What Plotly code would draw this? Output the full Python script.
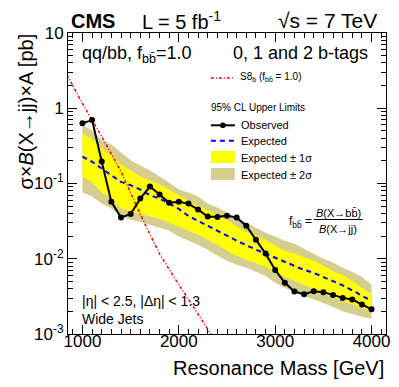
import plotly.graph_objects as go

# resonance mass points [GeV]
mass = list(range(1000, 4001, 100))

# 95% CL upper limits [pb]
observed = [0.63, 0.698, 0.196, 0.057, 0.0352, 0.0394, 0.063, 0.0912, 0.0713, 0.0553,
            0.057, 0.0541, 0.045, 0.0363, 0.0358, 0.0374, 0.0352, 0.0275, 0.0179, 0.0117,
            0.0071, 0.0048, 0.00367, 0.00338, 0.00371, 0.0036, 0.00331, 0.00302, 0.00287,
            0.00246, 0.00213]
expected = [0.227, 0.195, 0.158, 0.129, 0.105, 0.095, 0.083, 0.070, 0.063, 0.054,
            0.046, 0.037, 0.032, 0.0275, 0.0236, 0.0203, 0.0174, 0.0151, 0.0132, 0.0117,
            0.0103, 0.0091, 0.0081, 0.0071, 0.0065, 0.00575, 0.0051, 0.00443, 0.0038,
            0.0032, 0.00275]
exp_1s_up = [0.464, 0.386, 0.293, 0.236, 0.179, 0.149, 0.124, 0.110, 0.097, 0.0832,
             0.0692, 0.0593, 0.0509, 0.0437, 0.0386, 0.0331, 0.0267, 0.0229, 0.0203, 0.0179,
             0.0149, 0.0128, 0.0117, 0.0106, 0.0094, 0.0081, 0.0069, 0.0061, 0.0051,
             0.0041, 0.0034]
exp_1s_dn = [0.124, 0.103, 0.0759, 0.0631, 0.0464, 0.0423, 0.0398, 0.0363, 0.0341, 0.0302,
             0.0267, 0.0236, 0.0209, 0.0179, 0.0154, 0.0128, 0.011, 0.0097, 0.0086, 0.0078,
             0.0065, 0.00575, 0.0051, 0.0045, 0.0040, 0.0035, 0.0031, 0.00275, 0.00244,
             0.00222, 0.0020]
exp_2s_up = [0.593, 0.509, 0.375, 0.331, 0.259, 0.203, 0.174, 0.149, 0.124, 0.103,
             0.0832, 0.0759, 0.0671, 0.0541, 0.0479, 0.0410, 0.0341, 0.0302, 0.0259, 0.0222,
             0.0197, 0.0174, 0.0158, 0.0136, 0.0117, 0.010, 0.0089, 0.0076, 0.0067,
             0.00575, 0.0045]
exp_2s_dn = [0.0759, 0.0671, 0.0541, 0.0464, 0.0374, 0.0331, 0.0311, 0.0284, 0.0259, 0.0236,
             0.0197, 0.0174, 0.0154, 0.0132, 0.011, 0.0094, 0.0083, 0.0076, 0.0067, 0.0059,
             0.0048, 0.0041, 0.0036, 0.0032, 0.0029, 0.0026, 0.0023, 0.0020, 0.00185,
             0.00169, 0.00158]

# S8b theory curve
s8b_mass = [800, 1000, 1200, 1400, 1600, 1800, 2000, 2200, 2400]
s8b_xsec = [3.45, 1.16, 0.42, 0.144, 0.039, 0.0116, 0.00453, 0.00183, 0.00074]

x_ticks = [1000, 2000, 3000, 4000]
y_ticks = [1e-3, 1e-2, 1e-1, 1, 10]
y_tick_labels = ['10<sup>-3</sup>', '10<sup>-2</sup>', '10<sup>-1</sup>', '1', '10']

FONT = "Liberation Sans, Arial, Helvetica, sans-serif"
KHAKI = "rgb(213,206,143)"
YELLOW = "rgb(255,255,0)"

# plot frame in pixels
WIDTH, HEIGHT = 399, 387
L, R, T, B = 60, 378.3, 25, 326


def px(x):
    return (x - L) / (R - L)


def py(y):
    return (B - y) / (B - T)


def note(text, x, y, size, xanchor="left", yanchor="middle", **kw):
    return dict(text=text, x=px(x), y=py(y), xref="paper", yref="paper",
                showarrow=False, xanchor=xanchor, yanchor=yanchor,
                font=dict(size=size, color="black", family=FONT), **kw)


fig = go.Figure()

fig.add_trace(go.Scatter(
    x=mass + mass[::-1], y=exp_2s_up + exp_2s_dn[::-1],
    fill="toself", fillcolor=KHAKI, line=dict(width=0), mode="lines",
    hoverinfo="skip", showlegend=False))
fig.add_trace(go.Scatter(
    x=mass + mass[::-1], y=exp_1s_up + exp_1s_dn[::-1],
    fill="toself", fillcolor=YELLOW, line=dict(width=0), mode="lines",
    hoverinfo="skip", showlegend=False))
fig.add_trace(go.Scatter(
    x=mass, y=expected, mode="lines",
    line=dict(color="rgb(0,0,255)", width=2, dash="5px,4px"), showlegend=False))
fig.add_trace(go.Scatter(
    x=s8b_mass, y=s8b_xsec, mode="lines",
    line=dict(color="rgb(255,0,0)", width=1.5, dash="3px,2px,1px,2px"), showlegend=False))
fig.add_trace(go.Scatter(
    x=mass, y=observed, mode="lines+markers",
    line=dict(color="black", width=2),
    marker=dict(color="black", size=6), showlegend=False))

# hand-placed legend
leg_x0, leg_x1 = 203, 227
shapes = [
    dict(type="line", xref="paper", yref="paper", x0=px(leg_x0), x1=px(225), y0=py(70), y1=py(70),
         line=dict(color="rgb(255,0,0)", width=1.5, dash="3px,2px,1px,2px")),
    dict(type="line", xref="paper", yref="paper", x0=px(leg_x0), x1=px(leg_x1), y0=py(117.3), y1=py(117.3),
         line=dict(color="black", width=2)),
    dict(type="circle", xref="paper", yref="paper", x0=px(212.2), x1=px(217.8), y0=py(114.5), y1=py(120.1),
         fillcolor="black", line=dict(color="black", width=0)),
    dict(type="line", xref="paper", yref="paper", x0=px(leg_x0), x1=px(leg_x1), y0=py(132.7), y1=py(132.7),
         line=dict(color="rgb(0,0,255)", width=2, dash="5px,4px")),
    dict(type="rect", xref="paper", yref="paper", x0=px(leg_x0), x1=px(leg_x1), y0=py(143), y1=py(155),
         fillcolor=YELLOW, line=dict(width=0)),
    dict(type="rect", xref="paper", yref="paper", x0=px(leg_x0), x1=px(leg_x1), y0=py(160), y1=py(172),
         fillcolor=KHAKI, line=dict(width=0)),
    # fraction bar of f_bb
    dict(type="line", xref="paper", yref="paper", x0=px(306), x1=px(355), y0=py(211.5), y1=py(211.5),
         line=dict(color="black", width=1)),
]

bb = "bb\u0304"
annotations = [
    note("<b>CMS</b>", 61, 13, 20),
    note("L = 5 fb<sup>-1</sup>", 132, 13, 20),
    note("\u221As = 7 TeV", 371, 13, 21, xanchor="right"),
    note("qq/bb, f<sub>" + bb + "</sub>=1.0", 72, 46, 18),
    note("0, 1 and 2 b-tags", 362, 45, 18, xanchor="right"),
    note("S8<sub>b</sub> (f<sub>" + bb + "</sub> = 1.0)", 230, 69, 10),
    note("95% CL Upper Limits", 201, 99.5, 10),
    note("Observed", 231, 117.5, 11),
    note("Expected", 231, 133, 11),
    note("Expected \u00b1 1\u03c3", 231, 149.5, 11),
    note("Expected \u00b1 2\u03c3", 231, 166.5, 11),
    note("f<sub>" + bb + "</sub> =", 279, 214, 12),
    note("<i>B</i>(X\u2192" + bb + ")", 330.5, 205, 11, xanchor="center"),
    note("<i>B</i>(X\u2192jj)", 330.5, 221, 11, xanchor="center"),
    note("|\u03b7| < 2.5, |\u0394\u03b7| < 1.3", 72, 293, 14),
    note("Wide Jets", 72, 311, 14),
    note("Resonance Mass [GeV]", 378, 360, 20, xanchor="right"),
    note("\u03c3\u00d7<i>B</i>(X\u2192jj)\u00d7A [pb]", 17, 103.5, 20,
         xanchor="center", textangle=-90),
]

fig.update_layout(
    width=WIDTH, height=HEIGHT,
    margin=dict(l=L, r=WIDTH - R, t=T, b=HEIGHT - B, pad=0),
    paper_bgcolor="white", plot_bgcolor="white",
    font=dict(family=FONT, color="black"),
    showlegend=False,
    shapes=shapes,
    annotations=annotations,
    xaxis=dict(
        range=[850, 4150], tickvals=x_ticks, ticks="inside", ticklen=9,
        tickcolor="black", showline=True, linecolor="black", linewidth=1,
        mirror="ticks", showgrid=False, zeroline=False, ticklabelstandoff=-8,
        tickfont=dict(size=17, family=FONT, color="black"),
        minor=dict(dtick=100, ticks="inside", ticklen=5, tickcolor="black", showgrid=False),
    ),
    yaxis=dict(
        type="log", range=[-3, 1], tickvals=y_ticks, ticktext=y_tick_labels,
        ticks="inside", ticklen=9, tickcolor="black", showline=True,
        linecolor="black", linewidth=1, mirror="ticks", showgrid=False,
        zeroline=False, tickfont=dict(size=17, family=FONT, color="black"),
        minor=dict(tickvals=[k * 10.0 ** e for e in range(-3, 1) for k in range(2, 10)],
                   ticks="inside", ticklen=5, tickcolor="black", showgrid=False),
    ),
)

fig.write_html("out.html")
